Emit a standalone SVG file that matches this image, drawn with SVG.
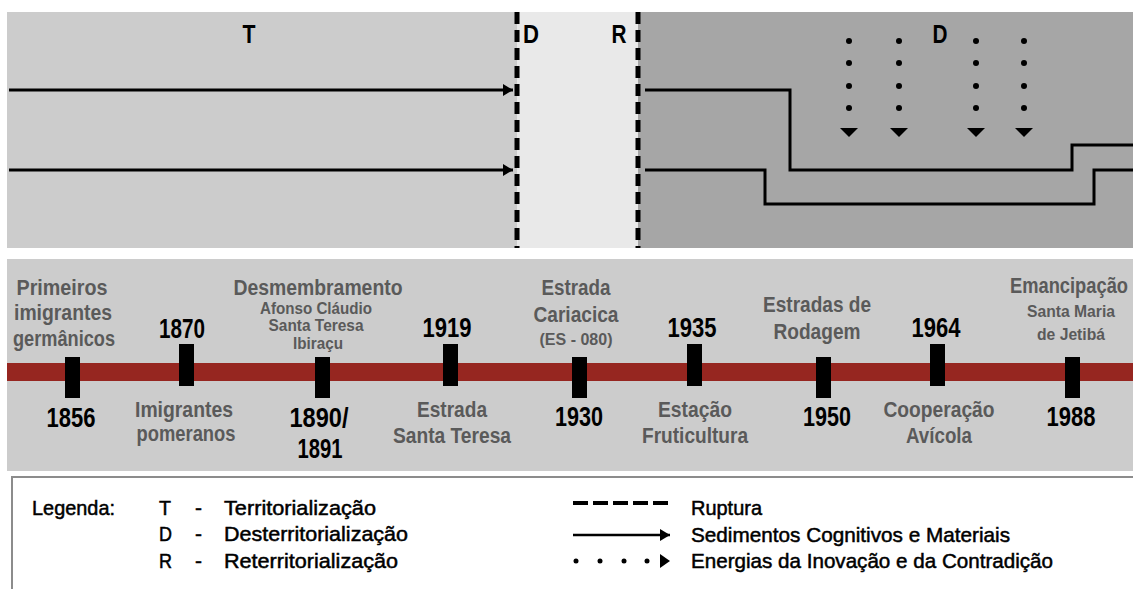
<svg xmlns="http://www.w3.org/2000/svg" width="1133" height="589" viewBox="0 0 1133 589">
<style>
  .lbl{font-family:"Liberation Sans",Arial,sans-serif;font-weight:bold;font-size:22px;fill:#5a5a5a;text-anchor:middle}
  .sub{font-family:"Liberation Sans",Arial,sans-serif;font-weight:bold;font-size:16px;fill:#5a5a5a;text-anchor:middle}
  .yr{font-family:"Liberation Sans",Arial,sans-serif;font-weight:bold;font-size:27px;fill:#000;text-anchor:middle}
  .big{font-family:"Liberation Sans",Arial,sans-serif;font-weight:bold;font-size:25px;fill:#000;text-anchor:middle}
  .leg{font-family:"Liberation Sans",Arial,sans-serif;font-size:21px;fill:#000;stroke:#000;stroke-width:0.5}
  .tick{fill:#000}
  .line{fill:none;stroke:#000;stroke-width:3}
  .rupt{fill:none;stroke:#000;stroke-width:5;stroke-dasharray:12 6}
  .dot{fill:#000}
</style>
<defs>
  <marker id="ah" viewBox="0 0 10 12" refX="10" refY="6" markerWidth="10" markerHeight="12" markerUnits="userSpaceOnUse" orient="auto">
    <path d="M0,0 L10,6 L0,12 Z" fill="#000"/>
  </marker>
</defs>
<rect width="1133" height="589" fill="#fff"/>

<g id="panel-top">
  <rect x="7" y="12" width="510" height="236" fill="#cccccc"/>
  <rect x="517" y="12" width="121" height="236" fill="#e9e9e9"/>
  <rect x="638" y="12" width="495" height="236" fill="#a6a6a6"/>
  <text class="big" x="249" y="43" textLength="13" lengthAdjust="spacingAndGlyphs">T</text>
  <text class="big" x="531" y="43" textLength="16" lengthAdjust="spacingAndGlyphs">D</text>
  <text class="big" x="619" y="43" textLength="15" lengthAdjust="spacingAndGlyphs">R</text>
  <text class="big" x="940" y="43" textLength="15" lengthAdjust="spacingAndGlyphs">D</text>
</g>

<g id="connectors">
  <line class="line" x1="9" y1="90" x2="513" y2="90" marker-end="url(#ah)"/>
  <line class="line" x1="9" y1="170" x2="513" y2="170" marker-end="url(#ah)"/>
  <line class="rupt" x1="517" y1="12" x2="517" y2="248"/>
  <line class="rupt" x1="638" y1="12" x2="638" y2="248"/>
  <path class="line" d="M645,90 H790 V170 H1072 V145 H1133"/>
  <path class="line" d="M645,170 H765 V204 H1094 V170 H1133"/>
  <g id="energy-arrows">
    <circle class="dot" cx="849" cy="41" r="3"/><circle class="dot" cx="849" cy="63" r="3"/><circle class="dot" cx="849" cy="86" r="3"/><circle class="dot" cx="849" cy="108" r="3"/>
    <path class="dot" d="M840,128 H858 L849,137 Z"/>
    <circle class="dot" cx="899" cy="41" r="3"/><circle class="dot" cx="899" cy="63" r="3"/><circle class="dot" cx="899" cy="86" r="3"/><circle class="dot" cx="899" cy="108" r="3"/>
    <path class="dot" d="M890,128 H908 L899,137 Z"/>
    <circle class="dot" cx="976" cy="41" r="3"/><circle class="dot" cx="976" cy="63" r="3"/><circle class="dot" cx="976" cy="86" r="3"/><circle class="dot" cx="976" cy="108" r="3"/>
    <path class="dot" d="M967,128 H985 L976,137 Z"/>
    <circle class="dot" cx="1024" cy="41" r="3"/><circle class="dot" cx="1024" cy="63" r="3"/><circle class="dot" cx="1024" cy="86" r="3"/><circle class="dot" cx="1024" cy="108" r="3"/>
    <path class="dot" d="M1015,128 H1033 L1024,137 Z"/>
  </g>
</g>

<g id="timeline">
  <rect x="7" y="259" width="1126" height="212" fill="#cccccc"/>
  <rect x="7" y="363" width="1126" height="18" fill="#962620"/>
</g>

<g id="n1856">
  <text class="lbl" x="62" y="295" textLength="91" lengthAdjust="spacingAndGlyphs">Primeiros</text>
  <text class="lbl" x="63" y="320" textLength="98" lengthAdjust="spacingAndGlyphs">imigrantes</text>
  <text class="lbl" x="64" y="346" textLength="102" lengthAdjust="spacingAndGlyphs">germânicos</text>
  <rect class="tick" x="65" y="357" width="15" height="41"/>
  <text class="yr" x="71" y="427" textLength="49" lengthAdjust="spacingAndGlyphs">1856</text>
</g>
<g id="n1870">
  <text class="yr" x="182" y="338" textLength="46" lengthAdjust="spacingAndGlyphs">1870</text>
  <rect class="tick" x="179" y="344" width="15" height="42"/>
  <text class="lbl" x="184" y="417" textLength="98" lengthAdjust="spacingAndGlyphs">Imigrantes</text>
  <text class="lbl" x="186" y="441" textLength="99" lengthAdjust="spacingAndGlyphs">pomeranos</text>
</g>
<g id="n1890">
  <text class="lbl" x="318" y="295" textLength="169" lengthAdjust="spacingAndGlyphs">Desmembramento</text>
  <text class="sub" x="316" y="314" textLength="112" lengthAdjust="spacingAndGlyphs">Afonso Cláudio</text>
  <text class="sub" x="316" y="331" textLength="95" lengthAdjust="spacingAndGlyphs">Santa Teresa</text>
  <text class="sub" x="318" y="349" textLength="50" lengthAdjust="spacingAndGlyphs">Ibiraçu</text>
  <rect class="tick" x="315" y="357" width="15" height="41"/>
  <text class="yr" x="319" y="427" textLength="59" lengthAdjust="spacingAndGlyphs">1890/</text>
  <text class="yr" x="320" y="458" textLength="45" lengthAdjust="spacingAndGlyphs">1891</text>
</g>
<g id="n1919">
  <text class="yr" x="447" y="337" textLength="49" lengthAdjust="spacingAndGlyphs">1919</text>
  <rect class="tick" x="443" y="344" width="15" height="42"/>
  <text class="lbl" x="452" y="417" textLength="70" lengthAdjust="spacingAndGlyphs">Estrada</text>
  <text class="lbl" x="452" y="443" textLength="118" lengthAdjust="spacingAndGlyphs">Santa Teresa</text>
</g>
<g id="n1930">
  <text class="lbl" x="576" y="295" textLength="69" lengthAdjust="spacingAndGlyphs">Estrada</text>
  <text class="lbl" x="576" y="322" textLength="85" lengthAdjust="spacingAndGlyphs">Cariacica</text>
  <text class="sub" x="576" y="345" textLength="73" lengthAdjust="spacingAndGlyphs">(ES - 080)</text>
  <rect class="tick" x="572" y="357" width="15" height="41"/>
  <text class="yr" x="579" y="426" textLength="48" lengthAdjust="spacingAndGlyphs">1930</text>
</g>
<g id="n1935">
  <text class="yr" x="692" y="337" textLength="49" lengthAdjust="spacingAndGlyphs">1935</text>
  <rect class="tick" x="687" y="344" width="15" height="42"/>
  <text class="lbl" x="695" y="417" textLength="74" lengthAdjust="spacingAndGlyphs">Estação</text>
  <text class="lbl" x="695" y="443" textLength="106" lengthAdjust="spacingAndGlyphs">Fruticultura</text>
</g>
<g id="n1950">
  <text class="lbl" x="817" y="312" textLength="108" lengthAdjust="spacingAndGlyphs">Estradas de</text>
  <text class="lbl" x="817" y="339" textLength="87" lengthAdjust="spacingAndGlyphs">Rodagem</text>
  <rect class="tick" x="816" y="357" width="15" height="41"/>
  <text class="yr" x="827" y="426" textLength="48" lengthAdjust="spacingAndGlyphs">1950</text>
</g>
<g id="n1964">
  <text class="yr" x="936" y="337" textLength="49" lengthAdjust="spacingAndGlyphs">1964</text>
  <rect class="tick" x="930" y="344" width="15" height="42"/>
  <text class="lbl" x="939" y="417" textLength="111" lengthAdjust="spacingAndGlyphs">Cooperação</text>
  <text class="lbl" x="939" y="443" textLength="66" lengthAdjust="spacingAndGlyphs">Avícola</text>
</g>
<g id="n1988">
  <text class="lbl" x="1128" y="293" text-anchor="end" style="text-anchor:end" textLength="118" lengthAdjust="spacingAndGlyphs">Emancipação</text>
  <text class="sub" x="1071" y="317" textLength="88" lengthAdjust="spacingAndGlyphs">Santa Maria</text>
  <text class="sub" x="1071" y="340" textLength="68" lengthAdjust="spacingAndGlyphs">de Jetibá</text>
  <rect class="tick" x="1065" y="357" width="15" height="41"/>
  <text class="yr" x="1071" y="426" textLength="49" lengthAdjust="spacingAndGlyphs">1988</text>
</g>

<g id="legend">
  <rect x="12" y="477" width="1130" height="130" fill="#fff" stroke="#8c8c8c" stroke-width="2"/>
  <text class="leg" x="32" y="515" textLength="83" lengthAdjust="spacingAndGlyphs">Legenda:</text>
  <text class="leg" x="159" y="515" textLength="12" lengthAdjust="spacingAndGlyphs">T</text>
  <text class="leg" x="195" y="515">-</text>
  <text class="leg" x="224" y="515" textLength="152" lengthAdjust="spacingAndGlyphs">Territorialização</text>
  <text class="leg" x="159" y="541" textLength="13" lengthAdjust="spacingAndGlyphs">D</text>
  <text class="leg" x="195" y="541">-</text>
  <text class="leg" x="224" y="541" textLength="184" lengthAdjust="spacingAndGlyphs">Desterritorialização</text>
  <text class="leg" x="159" y="568" textLength="13" lengthAdjust="spacingAndGlyphs">R</text>
  <text class="leg" x="195" y="568">-</text>
  <text class="leg" x="224" y="568" textLength="174" lengthAdjust="spacingAndGlyphs">Reterritorialização</text>

  <line x1="573" y1="503" x2="668" y2="503" stroke="#000" stroke-width="4" stroke-dasharray="15 5"/>
  <line x1="573" y1="535" x2="670" y2="535" stroke="#000" stroke-width="2.5" marker-end="url(#ah)"/>
  <circle class="dot" cx="576" cy="561" r="2.5"/><circle class="dot" cx="600" cy="561" r="2.5"/><circle class="dot" cx="624" cy="561" r="2.5"/><circle class="dot" cx="647" cy="561" r="2.5"/>
  <path class="dot" d="M660,554 L670,561 L660,568 Z"/>
  <text class="leg" x="691" y="515" textLength="71" lengthAdjust="spacingAndGlyphs">Ruptura</text>
  <text class="leg" x="691" y="542" textLength="319" lengthAdjust="spacingAndGlyphs">Sedimentos Cognitivos e Materiais</text>
  <text class="leg" x="691" y="568" textLength="362" lengthAdjust="spacingAndGlyphs">Energias da Inovação e da Contradição</text>
</g>
</svg>
